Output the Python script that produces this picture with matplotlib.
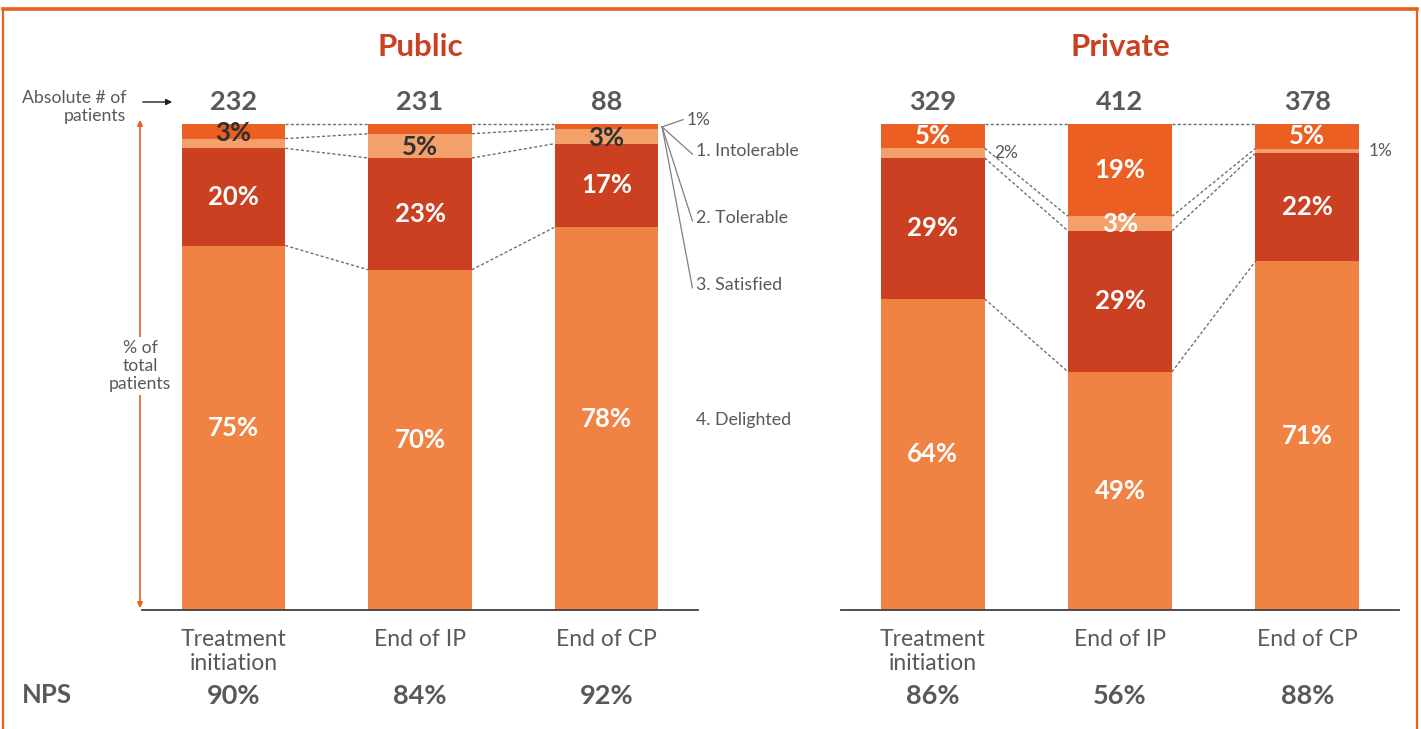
import matplotlib
matplotlib.use('Agg')
import matplotlib.pyplot as plt
from matplotlib.patches import Rectangle, FancyArrowPatch
from matplotlib.lines import Line2D

plt.rcParams['font.family'] = ['Lato', 'DejaVu Sans']

categories = ['Treatment\ninitiation', 'End of IP', 'End of CP']
levels = ['1. Intolerable', '2. Tolerable', '3. Satisfied', '4. Delighted']

public_intolerable = [3, 2, 1]
public_tolerable = [2, 5, 3]
public_satisfied = [20, 23, 17]
public_delighted = [75, 70, 78]
public_n = [232, 231, 88]
public_nps = [90, 84, 92]

private_intolerable = [5, 19, 5]
private_tolerable = [2, 3, 1]
private_satisfied = [29, 29, 22]
private_delighted = [64, 49, 71]
private_n = [329, 412, 378]
private_nps = [86, 56, 88]

# colours bottom -> top: delighted, satisfied, tolerable, intolerable
colors = ['#F08244', '#CC4022', '#F4A06A', '#EB5F22']
grey = '#595959'
border = '#E8601C'

# how each value label is drawn: 'w' white inside, 'd' dark inside, 'o' outside, None hidden
# order per bar: delighted, satisfied, tolerable, intolerable
public_modes = [['w', 'w', None, 'd'], ['w', 'w', 'd', None], ['w', 'w', 'd', None]]
private_modes = [['w', 'w', 'o', 'w'], ['w', 'w', 'w', 'w'], ['w', 'w', 'o', 'w']]

W, H = 1421, 729
fig = plt.figure(figsize=(W / 100, H / 100), dpi=100)

bar_w = 0.555
xlim = (-0.49, 2.49)
ax_bottom = (H - 610) / H
ax_h = 486 / H

ax_pub = fig.add_axes([142 / W, ax_bottom, 556 / W, ax_h])
ax_pri = fig.add_axes([841 / W, ax_bottom, 558 / W, ax_h])


def draw_panel(ax, title, intol, tol, sat, deli, n, nps, modes):
    ax.set_xlim(*xlim)
    ax.set_ylim(0, 100)
    for s in ['top', 'right', 'left']:
        ax.spines[s].set_visible(False)
    ax.spines['bottom'].set_color('#404040')
    ax.spines['bottom'].set_linewidth(1.3)
    ax.set_yticks([])
    ax.set_xticks([])

    tops = []
    for i in range(3):
        vals = [deli[i], sat[i], tol[i], intol[i]]
        total = sum(vals)
        scaled = [v / total * 100 for v in vals]
        bottom = 0
        bounds = [0]
        for j, (v, sv) in enumerate(zip(vals, scaled)):
            ax.bar(i, sv, bottom=bottom, width=bar_w, color=colors[j], linewidth=0)
            mid = bottom + sv / 2
            m = modes[i][j]
            if m == 'w':
                ax.text(i, mid, f'{v}%', ha='center', va='center', color='white',
                        fontsize=18.5, fontweight='bold')
            elif m == 'd':
                ax.text(i, mid - 0.3, f'{v}%', ha='center', va='center', color='#303030',
                        fontsize=18.5, fontweight='bold')
            elif m == 'o':
                ax.text(i + bar_w / 2 + 0.05, mid, f'{v}%', ha='left', va='center',
                        color=grey, fontsize=12.5)
            bottom += sv
            bounds.append(bottom)
        tops.append(bounds)
        ax.text(i, 104.6, str(n[i]), ha='center', va='center', color=grey,
                fontsize=19.5, fontweight='bold', clip_on=False)
        ax.text(i, -3.9, categories[i], ha='center', va='top', color=grey,
                fontsize=16.5, linespacing=1.15, clip_on=False)
        ax.text(i, -17.6, f'{nps[i]}%', ha='center', va='center', color=grey,
                fontsize=19.5, fontweight='bold', clip_on=False)

    # dotted connectors between neighbouring bars
    for i in range(2):
        for k in [1, 2, 3, 4]:
            ax.plot([i + bar_w / 2, i + 1 - bar_w / 2], [tops[i][k], tops[i + 1][k]],
                    color='#6f6f6f', lw=1.0, linestyle=(0, (2.2, 1.6)), clip_on=False,
                    zorder=1)

    ax.text(1, 115.8, title, ha='center', va='center', color='#CC4022',
            fontsize=22.5, fontweight='bold', clip_on=False)
    return tops


pub_tops = draw_panel(ax_pub, 'Public', public_intolerable, public_tolerable,
                      public_satisfied, public_delighted, public_n, public_nps,
                      public_modes)
draw_panel(ax_pri, 'Private', private_intolerable, private_tolerable,
           private_satisfied, private_delighted, private_n, private_nps,
           private_modes)

# legend labels with leader lines next to the last public bar
ox, oy = 2 + bar_w / 2 + 0.02, 99.4
lx = 2.48
ax_pub.text(lx - 0.05, 100.8, f'{public_intolerable[2]}%', ha='left', va='center',
            color=grey, fontsize=12.5, clip_on=False)
ax_pub.plot([ox, lx - 0.07], [oy, 100.9], color='#7f7f7f', lw=0.9, clip_on=False)
legend_y = [94.4, 80.7, 66.9, 39.1]
for k, (lab, ly) in enumerate(zip(levels, legend_y)):
    ax_pub.text(lx, ly, lab, ha='left', va='center', color=grey, fontsize=12.8,
                clip_on=False)
    if k < 3:
        ax_pub.plot([ox, lx - 0.02], [oy, ly - 0.6], color='#7f7f7f', lw=0.9,
                    clip_on=False)

# left annotations
fig.text(126 / W, 1 - 107 / H, 'Absolute # of\npatients', ha='right', va='center',
         color=grey, fontsize=12.7, linespacing=1.1)
fig.add_artist(FancyArrowPatch((140 / W, 1 - 102 / H), (175 / W, 1 - 102 / H),
                               transform=fig.transFigure, arrowstyle='-|>',
                               mutation_scale=9, color='#202020', lw=1))
fig.add_artist(FancyArrowPatch((140 / W, 1 - 117 / H), (140 / W, 1 - 611 / H),
                               transform=fig.transFigure, arrowstyle='<|-|>',
                               mutation_scale=8, color=border, lw=1.2))
fig.text(140 / W, 1 - 366 / H, '% of\ntotal\npatients', ha='center', va='center',
         color=grey, fontsize=12.7, linespacing=1.18,
         bbox=dict(facecolor='white', edgecolor='none', pad=2))
fig.text(22 / W, 1 - 695 / H, 'NPS', ha='left', va='center', color=grey,
         fontsize=18.5, fontweight='bold')

# frame
fig.add_artist(Rectangle((3 / W, -0.05), (1417 - 3) / W, 1.05 - 9 / H,
                         transform=fig.transFigure, fill=False, edgecolor=border,
                         lw=1.6))
fig.add_artist(Line2D([3 / W, 1417 / W], [1 - 9 / H, 1 - 9 / H],
                      transform=fig.transFigure, color=border, lw=2.6))

fig.savefig('out.png', dpi=100)
